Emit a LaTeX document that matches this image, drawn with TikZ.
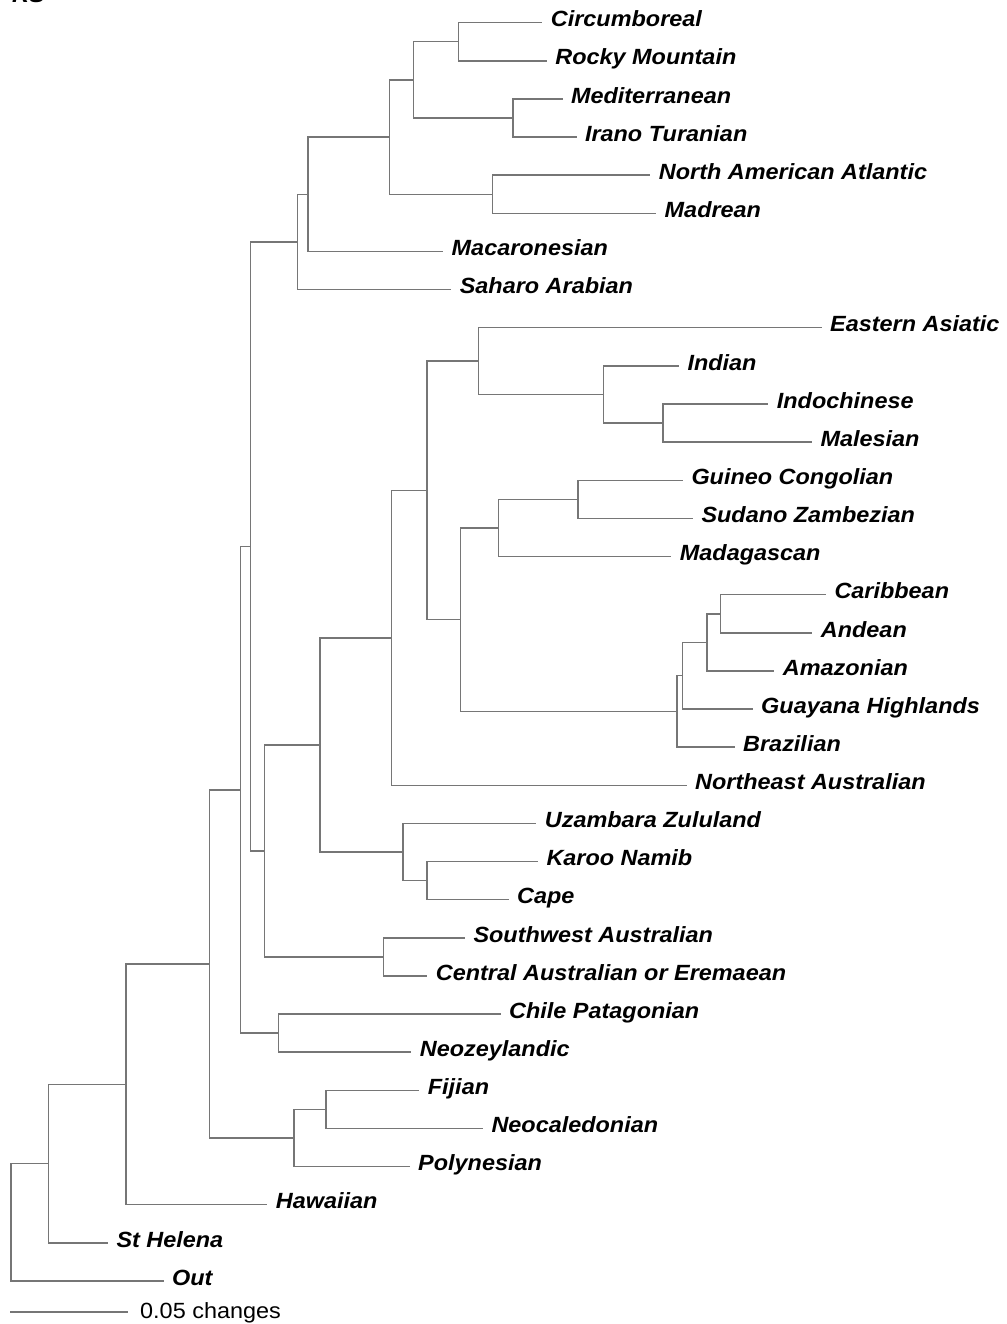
\documentclass[tikz,border=0pt]{standalone}
\usepackage{fontspec}
\usepackage{graphicx}
\setmainfont{Liberation Sans}
\definecolor{branch}{HTML}{767676}
\newcommand\labtext[1]{\scalebox{1.065}[1]{\fontsize{22}{26}\selectfont\bfseries\itshape #1}}
\newcommand\taxon[4]{\coordinate (#1) at (#2,#3); \node[lab] (#1-l) at (#1) {\labtext{#4}};}
\begin{document}
\begin{tikzpicture}[x=1pt,y=-1pt,
  lab/.style={anchor=base west,inner sep=0pt,xshift=9pt,yshift=-4.2pt},
  br/.style={draw=branch,line width=1.5pt,line cap=rect}]
\useasboundingbox (0,0) rectangle (1006,1324);
% panel letter, partly outside the page top
\begin{scope}
\clip (0,0) rectangle (1006,1324);
\node[anchor=base west,inner sep=0pt] (panel) at (12,3) {\labtext{RS}};
\end{scope}

% terminal taxa: line end x, line y, name
\taxon{circ}{541.7}{22.7}{Circumboreal}
\taxon{rocky}{546.2}{60.8}{Rocky Mountain}
\taxon{med}{561.8}{99.0}{Mediterranean}
\taxon{irano}{575.8}{137.1}{Irano Turanian}
\taxon{naa}{649.7}{175.2}{North American Atlantic}
\taxon{madre}{655.5}{213.4}{Madrean}
\taxon{macar}{442.5}{251.5}{Macaronesian}
\taxon{sahar}{450.6}{289.6}{Saharo Arabian}
\taxon{easia}{821.0}{327.7}{Eastern Asiatic}
\taxon{india}{678.3}{365.9}{Indian}
\taxon{indoc}{767.7}{404.0}{Indochinese}
\taxon{males}{811.3}{442.1}{Malesian}
\taxon{guine}{682.3}{480.3}{Guineo Congolian}
\taxon{sudan}{692.3}{518.4}{Sudano Zambezian}
\taxon{madag}{670.7}{556.5}{Madagascan}
\taxon{carib}{825.3}{594.7}{Caribbean}
\taxon{ande}{811.7}{632.8}{Andean}
\taxon{amaz}{773.7}{670.9}{Amazonian}
\taxon{guay}{752.0}{709.0}{Guayana Highlands}
\taxon{brazi}{734.0}{747.2}{Brazilian}
\taxon{neaus}{686.0}{785.3}{Northeast Australian}
\taxon{uzam}{535.7}{823.4}{Uzambara Zululand}
\taxon{karoo}{537.3}{861.6}{Karoo Namib}
\taxon{cape}{508.0}{899.7}{Cape}
\taxon{swaus}{464.3}{937.8}{Southwest Australian}
\taxon{centr}{426.7}{976.0}{Central Australian or Eremaean}
\taxon{chile}{500.0}{1014.1}{Chile Patagonian}
\taxon{neoz}{410.7}{1052.2}{Neozeylandic}
\taxon{fiji}{418.7}{1090.4}{Fijian}
\taxon{neoc}{482.3}{1128.5}{Neocaledonian}
\taxon{polyn}{409.0}{1166.6}{Polynesian}
\taxon{hawai}{266.7}{1204.7}{Hawaiian}
\taxon{sthel}{107.3}{1242.9}{St Helena}
\taxon{out}{163.0}{1281.0}{Out}

% internal nodes
\coordinate (n1) at (458.5,41.75);
\coordinate (n2) at (512.8,118.05);
\coordinate (n3) at (413.3,79.9);
\coordinate (n4) at (492.5,194.3);
\coordinate (n5) at (389.3,137.1);
\coordinate (n6) at (308.0,194.3);
\coordinate (n7) at (297.7,241.95);
\coordinate (n8) at (663.0,423.05);
\coordinate (n9) at (603.7,394.5);
\coordinate (n10) at (478.7,361.1);
\coordinate (n11) at (578.0,499.35);
\coordinate (n12) at (498.7,527.9);
\coordinate (n13) at (720.3,613.75);
\coordinate (n14) at (707.0,642.3);
\coordinate (n15) at (682.7,675.65);
\coordinate (n16) at (677.0,711.4);
\coordinate (n17) at (460.7,619.65);
\coordinate (n18) at (427.0,490.4);
\coordinate (n19) at (391.3,637.85);
\coordinate (n20) at (427.0,880.65);
\coordinate (n21) at (403.0,852.0);
\coordinate (n22) at (320.0,744.9);
\coordinate (n23) at (383.3,956.9);
\coordinate (n24) at (264.7,850.9);
\coordinate (n25) at (250.7,546.4);
\coordinate (n26) at (278.3,1033.15);
\coordinate (n27) at (240.7,789.8);
\coordinate (n28) at (326.0,1109.45);
\coordinate (n29) at (294.0,1138.0);
\coordinate (n30) at (209.3,963.9);
\coordinate (n31) at (126.0,1084.3);
\coordinate (n32) at (48.7,1163.6);
\coordinate (root) at (11.0,1222.3);

% branches: each node joins its two children
\foreach \p/\a/\b in {n1/circ/rocky, n2/med/irano, n3/n1/n2, n4/naa/madre,
  n5/n3/n4, n6/n5/macar, n7/n6/sahar, n8/indoc/males, n9/india/n8,
  n10/easia/n9, n11/guine/sudan, n12/n11/madag, n13/carib/ande,
  n14/n13/amaz, n15/n14/guay, n16/n15/brazi, n17/n12/n16, n18/n10/n17,
  n19/n18/neaus, n20/karoo/cape, n21/uzam/n20, n22/n19/n21,
  n23/swaus/centr, n24/n22/n23, n25/n7/n24, n26/chile/neoz,
  n27/n25/n26, n28/fiji/neoc, n29/n28/polyn, n30/n27/n29,
  n31/n30/hawai, n32/n31/sthel, root/n32/out}
  \draw[br] (\a) -| (\p) |- (\b);

% scale bar
\coordinate (sb0) at (11,1312);
\coordinate (sb1) at (127.3,1312);
\draw[br] (sb0) -- (sb1);
\node[anchor=base west,inner sep=0pt] (sbl) at (140,1318.5)
  {\scalebox{1.065}[1]{\fontsize{22}{26}\selectfont 0.05 changes}};
\end{tikzpicture}
\end{document}
